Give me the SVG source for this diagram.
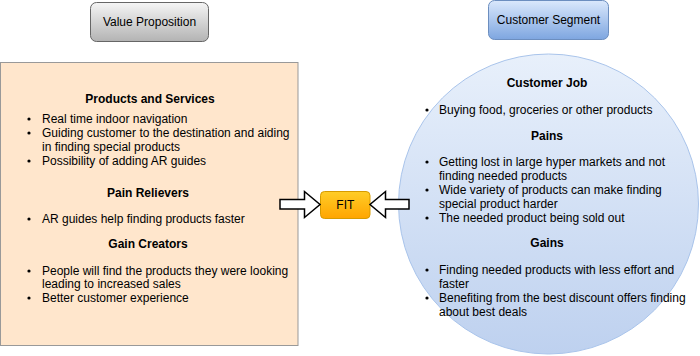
<svg xmlns="http://www.w3.org/2000/svg" width="700" height="356" viewBox="0 0 700 356">
  <defs>
    <linearGradient id="grayGrad" x1="0" y1="0" x2="0" y2="1">
      <stop offset="0" stop-color="#f5f5f5"/>
      <stop offset="1" stop-color="#b3b3b3"/>
    </linearGradient>
    <linearGradient id="blueGrad" x1="0" y1="0" x2="0" y2="1">
      <stop offset="0" stop-color="#dae8fc"/>
      <stop offset="1" stop-color="#7ea6e0"/>
    </linearGradient>
    <linearGradient id="circleGrad" x1="0" y1="0" x2="0" y2="1">
      <stop offset="0" stop-color="#e8f0fb"/>
      <stop offset="1" stop-color="#bed1ef"/>
    </linearGradient>
    <linearGradient id="fitGrad" x1="0" y1="0" x2="0" y2="1">
      <stop offset="0" stop-color="#ffcd28"/>
      <stop offset="1" stop-color="#ffa500"/>
    </linearGradient>
  </defs>
  <style>
    text { font-family: "Liberation Sans", Arial, Helvetica, sans-serif; font-size: 12px; fill: #000; }
    .h { font-weight: bold; text-anchor: middle; }
    .c { text-anchor: middle; }
    .arrow { fill: #fff; stroke: #000; stroke-width: 1.5; stroke-linejoin: miter; }
  </style>

  <!-- header buttons -->
  <g id="value-proposition">
    <rect x="90.5" y="2.5" width="118" height="39" rx="6" fill="url(#grayGrad)" stroke="#666"/>
    <text class="c" x="149.5" y="26">Value Proposition</text>
  </g>
  <g id="customer-segment">
    <rect x="488.5" y="0.5" width="120" height="39" rx="6" fill="url(#blueGrad)" stroke="#6c8ebf"/>
    <text class="c" x="548.5" y="24">Customer Segment</text>
  </g>

  <!-- value proposition panel -->
  <g id="value-panel">
    <rect x="0.5" y="62.5" width="297.5" height="283" fill="#ffe6cc" stroke="#999"/>
    <text class="h" x="150" y="103">Products and Services</text>
    <circle cx="29" cy="119" r="1.6"/>
    <text x="42" y="123">Real time indoor navigation</text>
    <circle cx="29" cy="133" r="1.6"/>
    <text x="42" y="137">Guiding customer to the destination and aiding</text>
    <text x="42" y="151">in finding special products</text>
    <circle cx="29" cy="161" r="1.6"/>
    <text x="42" y="165">Possibility of adding AR guides</text>
    <text class="h" x="148" y="197">Pain Relievers</text>
    <circle cx="29" cy="219" r="1.6"/>
    <text x="42" y="223">AR guides help finding products faster</text>
    <text class="h" x="148" y="248">Gain Creators</text>
    <circle cx="29" cy="271" r="1.6"/>
    <text x="42" y="275">People will find the products they were looking</text>
    <text x="42" y="288">leading to increased sales</text>
    <circle cx="29" cy="298" r="1.6"/>
    <text x="42" y="302">Better customer experience</text>
  </g>

  <!-- customer segment circle -->
  <g id="customer-panel">
    <circle cx="548.5" cy="204" r="150" fill="url(#circleGrad)" stroke="#a9c4eb"/>
    <text class="h" x="547" y="87">Customer Job</text>
    <circle cx="427" cy="110" r="1.6"/>
    <text x="439" y="114">Buying food, groceries or other products</text>
    <text class="h" x="547" y="140">Pains</text>
    <circle cx="427" cy="162" r="1.6"/>
    <text x="439" y="166">Getting lost in large hyper markets and not</text>
    <text x="439" y="180">finding needed products</text>
    <circle cx="427" cy="190" r="1.6"/>
    <text x="439" y="194">Wide variety of products can make finding</text>
    <text x="439" y="208">special product harder</text>
    <circle cx="427" cy="218" r="1.6"/>
    <text x="439" y="222">The needed product being sold out</text>
    <text class="h" x="547" y="247">Gains</text>
    <circle cx="427" cy="270" r="1.6"/>
    <text x="439" y="274">Finding needed products with less effort and</text>
    <text x="439" y="288">faster</text>
    <circle cx="427" cy="298" r="1.6"/>
    <text x="439" y="302">Benefiting from the best discount offers finding</text>
    <text x="439" y="316">about best deals</text>
  </g>

  <!-- fit node -->
  <g id="fit">
    <rect x="320.5" y="191.5" width="49.5" height="27" rx="4" fill="url(#fitGrad)" stroke="#d79b00"/>
    <text class="c" x="345.3" y="209">FIT</text>
  </g>

  <!-- block arrows pointing into FIT -->
  <g id="connectors">
    <path class="arrow" d="M280,199.5 H304.5 V191.5 L320,204.5 L304.5,217.5 V209 H280 Z"/>
    <path class="arrow" d="M409,199.5 H385.5 V191.5 L370,204.5 L385.5,217.5 V209 H409 Z"/>
  </g>
</svg>
